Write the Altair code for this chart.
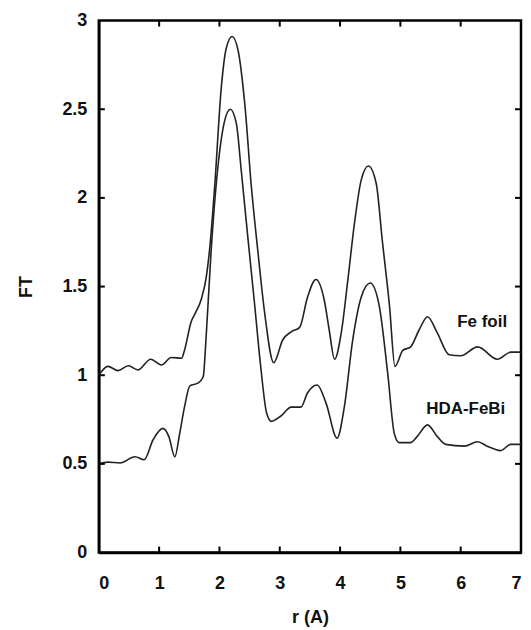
import altair as alt
import pandas as pd

# Fe foil curve (r in Angstrom, FT magnitude)
fe_r = [0.00, 0.15, 0.32, 0.49, 0.65, 0.86, 1.04, 1.20, 1.37, 1.42, 1.53, 1.60, 1.70,
        1.78, 1.84, 1.92, 2.03, 2.11, 2.21, 2.31, 2.42, 2.53, 2.64, 2.75, 2.90, 3.05,
        3.19, 3.33, 3.46, 3.60, 3.74, 3.82, 3.91, 4.02, 4.13, 4.24, 4.35, 4.47, 4.60,
        4.70, 4.82, 4.91, 5.04, 5.17, 5.31, 5.45, 5.61, 5.81, 6.00, 6.28, 6.61, 6.83, 7.00]
fe_ft = [1.00, 1.05, 1.026, 1.053, 1.03, 1.09, 1.058, 1.10, 1.096, 1.14, 1.30, 1.35, 1.43,
         1.55, 1.72, 2.06, 2.62, 2.84, 2.91, 2.83, 2.53, 2.06, 1.69, 1.35, 1.07, 1.20,
         1.245, 1.27, 1.44, 1.54, 1.42, 1.255, 1.09, 1.24, 1.54, 1.86, 2.10, 2.18, 2.08,
         1.76, 1.39, 1.05, 1.14, 1.16, 1.255, 1.33, 1.24, 1.115, 1.11, 1.16, 1.09, 1.13, 1.13]

# HDA-FeBi curve
hda_r = [0.00, 0.15, 0.35, 0.60, 0.75, 0.90, 1.06, 1.16, 1.26, 1.34, 1.42, 1.51, 1.64,
         1.73, 1.78, 1.86, 1.97, 2.09, 2.18, 2.28, 2.36, 2.47, 2.58, 2.69, 2.78, 2.86,
         3.02, 3.19, 3.35, 3.46, 3.62, 3.77, 3.95, 4.07, 4.21, 4.35, 4.50, 4.65, 4.79,
         4.90, 4.98, 5.17, 5.28, 5.45, 5.61, 5.75, 6.06, 6.28, 6.44, 6.66, 6.83, 7.00]
hda_ft = [0.50, 0.51, 0.505, 0.54, 0.523, 0.636, 0.70, 0.655, 0.54, 0.67, 0.82, 0.94, 0.955,
          0.99, 1.22, 1.69, 2.16, 2.44, 2.50, 2.42, 2.16, 1.78, 1.41, 1.03, 0.79, 0.74,
          0.77, 0.82, 0.82, 0.90, 0.945, 0.84, 0.645, 0.82, 1.20, 1.44, 1.52, 1.39, 1.01,
          0.67, 0.62, 0.62, 0.655, 0.72, 0.655, 0.61, 0.60, 0.625, 0.60, 0.575, 0.61, 0.61]

# Curve labels
label_text = ["Fe foil", "HDA-FeBi"]
label_r = [6.77, 6.74]
label_ft = [1.30, 0.81]

x_ticks = [1, 2, 3, 4, 5, 6]
y_ticks = [0.5, 1.0, 1.5, 2.0, 2.5]
x_labels = [0, 1, 2, 3, 4, 5, 6, 7]
y_labels = [0, 0.5, 1, 1.5, 2, 2.5, 3]

W, H = 423, 533
FONT = "Liberation Sans"
LINE = "#222222"
FRAME = "black"

fe = pd.DataFrame({"r": fe_r, "ft": fe_ft})
hda = pd.DataFrame({"r": hda_r, "ft": hda_ft})

xscale = alt.Scale(domain=[0, 7], nice=False, zero=False)
yscale = alt.Scale(domain=[0, 3], nice=False, zero=False)

xaxis = alt.Axis(values=x_labels, format="d", ticks=False, domain=True, domainColor=FRAME,
                 domainWidth=2.5, grid=False,
                 labelFont=FONT, labelFontSize=18, labelFontWeight="bold", labelColor="#111",
                 labelPadding=22, title="r (A)", titleFont=FONT, titleFontSize=18,
                 titleFontWeight="bold", titleColor="#111", titlePadding=16)
yaxis = alt.Axis(values=y_labels, format="~g", ticks=False, domain=True, domainColor=FRAME,
                 domainWidth=2.5, grid=False,
                 labelFont=FONT, labelFontSize=18, labelFontWeight="bold", labelColor="#111",
                 labelPadding=12, title="FT", titleFont=FONT,
                 titleFontSize=18, titleFontWeight="bold", titleColor="#111", titlePadding=26)

fe_line = alt.Chart(fe).mark_line(color=LINE, strokeWidth=1.6, interpolate="monotone").encode(
    x=alt.X("r:Q", scale=xscale, axis=xaxis),
    y=alt.Y("ft:Q", scale=yscale, axis=yaxis),
)
hda_line = alt.Chart(hda).mark_line(color=LINE, strokeWidth=1.6, interpolate="monotone").encode(
    x=alt.X("r:Q", scale=xscale),
    y=alt.Y("ft:Q", scale=yscale),
)

labels = alt.Chart(pd.DataFrame({"t": label_text, "r": label_r, "ft": label_ft})).mark_text(
    align="right", baseline="middle", font=FONT, fontSize=17, fontWeight="bold", color="#111"
).encode(x=alt.X("r:Q", scale=xscale), y=alt.Y("ft:Q", scale=yscale), text="t:N")

xt = pd.DataFrame({"v": x_ticks})
yt = pd.DataFrame({"v": y_ticks})
tick_bottom = alt.Chart(xt).mark_rule(color=FRAME, strokeWidth=2).encode(
    x=alt.X("v:Q", scale=xscale), y=alt.value(H), y2=alt.value(H - 6))
tick_top = alt.Chart(xt).mark_rule(color=FRAME, strokeWidth=2).encode(
    x=alt.X("v:Q", scale=xscale), y=alt.value(0), y2=alt.value(6))
tick_left = alt.Chart(yt).mark_rule(color=FRAME, strokeWidth=2).encode(
    y=alt.Y("v:Q", scale=yscale), x=alt.value(0), x2=alt.value(6))
tick_right = alt.Chart(yt).mark_rule(color=FRAME, strokeWidth=2).encode(
    y=alt.Y("v:Q", scale=yscale), x=alt.value(W), x2=alt.value(W - 6))

chart = alt.layer(fe_line, hda_line, labels, tick_bottom, tick_top, tick_left, tick_right).properties(
    width=W, height=H,
    autosize=alt.AutoSizeParams(type="none"),
    padding={"left": 91, "top": 12, "right": 2, "bottom": 76},
).configure_view(stroke=FRAME, strokeWidth=2.5)

chart.save("out.html", embed_options={"renderer": "svg", "actions": False})
